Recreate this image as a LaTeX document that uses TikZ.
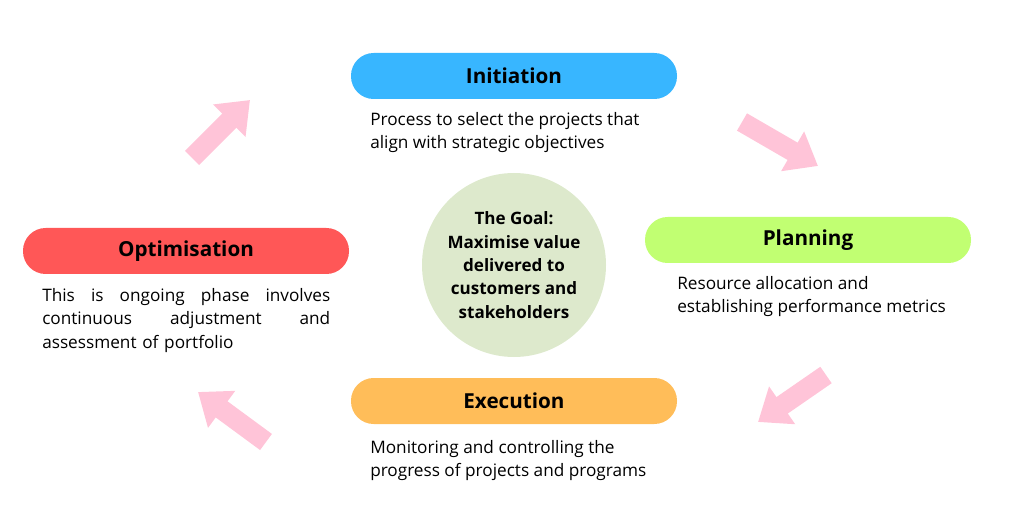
\documentclass[tikz,border=0pt]{standalone}
\usepackage{fontspec}
\setmainfont{Open Sans}
\usetikzlibrary{arrows.meta}
\definecolor{cblue}{HTML}{38B6FF}
\definecolor{cgreen}{HTML}{C1FF72}
\definecolor{cred}{HTML}{FF5757}
\definecolor{corange}{HTML}{FFBD59}
\definecolor{ccirc}{HTML}{DDE9CC}
\definecolor{cpink}{HTML}{FFC4D8}
\begin{document}
\begin{tikzpicture}[x=0.75pt,y=-0.75pt,
  pill/.style={rounded corners=17pt,minimum width=244.5pt,minimum height=34.5pt,inner sep=0pt,font=\fontsize{15.5}{18}\selectfont\bfseries},
  desc/.style={anchor=north west,inner sep=0pt,font=\fontsize{12.9}{17.5}\selectfont,align=left},
  parrow/.style={cpink,line width=15pt,-{Triangle[width=33pt,length=22pt]}}]
\useasboundingbox (0,0) rectangle (1024,527);
\node[pill,fill=cblue] (ini) at (514,76) {Initiation};
\node[pill,fill=cgreen] (pla) at (808,240) {Planning};
\node[pill,fill=cred] (opt) at (186,251) {Optimisation};
\node[pill,fill=corange] (exe) at (514,401) {Execution};
\node[circle,fill=ccirc,minimum size=138pt,inner sep=0pt,align=center,font=\fontsize{12.8}{17.5}\selectfont\bfseries] (goal) at (514,265) {The Goal:\\Maximise value\\delivered to\\customers and\\stakeholders};
\node[desc] (dini) at (370,112) {Process to select the projects that\\align with strategic objectives};
\node[desc] (dpla) at (677,276) {Resource allocation and\\establishing performance metrics};
\node[desc,text width=216pt] (dopt) at (42,288) {This\hfill is\hfill ongoing\hfill phase\hfill involves\\continuous\hfill adjustment\hfill and\\assessment of portfolio};
\node[desc] (dexe) at (370,440) {Monitoring and controlling the\\progress of projects and programs};
\coordinate (a1s) at (192,158); \coordinate (a1e) at (250,100);
\coordinate (a2s) at (742,122); \coordinate (a2e) at (818,166);
\coordinate (a3s) at (826,375); \coordinate (a3e) at (758,422);
\coordinate (a4s) at (266,442); \coordinate (a4e) at (198,392);
\draw[parrow] (a1s) -- (a1e);
\draw[parrow] (a2s) -- (a2e);
\draw[parrow] (a3s) -- (a3e);
\draw[parrow] (a4s) -- (a4e);
\end{tikzpicture}
\end{document}
